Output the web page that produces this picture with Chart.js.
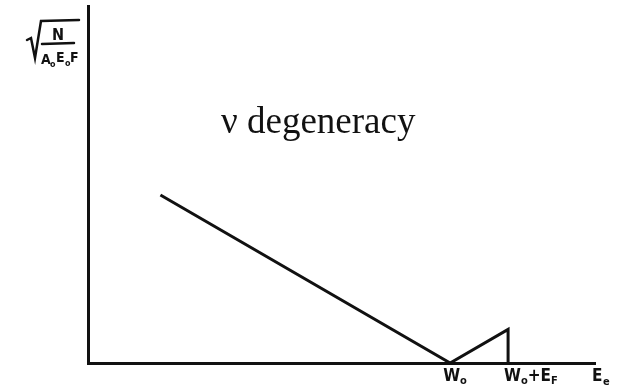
<!DOCTYPE html>
<html>
<head>
<meta charset="utf-8">
<script src="https://cdn.jsdelivr.net/npm/chart.js@4"></script>
<style>
  html, body { margin: 0; padding: 0; background: #fff; }
  #wrap { width: 628px; height: 386px; }
</style>
</head>
<body>
<div id="wrap"><canvas id="grafica" width="628" height="386"></canvas></div>
<script>
// electron energy (arbitrary units) and the Kurie-style ordinate
const energia = [2, 10, 11.6, 11.6]
const ordenada = [8, 0, 1.6, 0]
// marks under the energy axis: position, then text / subscript pairs
const marcasX = [10, 11.6]
const textosX = [["W", "o"], ["W", "o", "+E", "F"]]
const titulo = "\u03bd degeneracy"

const tinta = "#111"

// labels drawn by hand on top of the axes
const rotulos = {
  id: "rotulos",
  afterDraw(chart) {
    const ctx = chart.ctx
    const x = chart.scales.x
    const area = chart.chartArea
    ctx.save()
    ctx.fillStyle = tinta
    ctx.strokeStyle = tinta

    // title inside the plot
    ctx.font = "37px 'Liberation Serif'"
    ctx.textBaseline = "alphabetic"
    ctx.textAlign = "left"
    ctx.fillText(titulo, 221, 133)

    // text below the axis
    const big = "bold 17px 'DejaVu Sans Condensed', 'DejaVu Sans'"
    const small = "bold 11px 'DejaVu Sans Condensed', 'DejaVu Sans'"
    for (let i = 0; i < marcasX.length; i++) {
      let px = x.getPixelForValue(marcasX[i])
      let parts = textosX[i]
      let cx = i === 0 ? px - 7 : px - 4
      for (let j = 0; j < parts.length; j++) {
        let sub = j % 2 === 1
        ctx.font = sub ? small : big
        ctx.fillText(parts[j], cx, sub ? 384 : 381)
        cx += ctx.measureText(parts[j]).width
      }
    }
    // axis name at the end
    ctx.font = big
    ctx.fillText("E", area.right - 3, 381)
    ctx.font = small
    ctx.fillText("e", area.right + 8, 385)

    // y axis name: sqrt of N over A0 E0 F
    ctx.lineWidth = 2.5
    ctx.lineCap = "round"
    ctx.beginPath()
    ctx.moveTo(27, 40)
    ctx.lineTo(31, 38)
    ctx.lineTo(35, 58)
    ctx.lineTo(41, 21)
    ctx.lineTo(79, 20)
    ctx.stroke()
    ctx.beginPath()
    ctx.moveTo(42, 44)
    ctx.lineTo(74, 43)
    ctx.stroke()
    ctx.font = "bold 16px 'DejaVu Sans Condensed', 'DejaVu Sans'"
    ctx.fillText("N", 52, 40)
    ctx.font = "bold 14px 'DejaVu Sans Condensed', 'DejaVu Sans'"
    ctx.fillText("A", 41, 64)
    ctx.fillText("E", 56, 62)
    ctx.fillText("F", 70, 62)
    ctx.font = "bold 8px 'DejaVu Sans'"
    ctx.fillText("o", 50, 67)
    ctx.fillText("o", 65, 66)
    ctx.restore()
  }
}

new Chart(document.getElementById("grafica"), {
  type: "line",
  data: {
    datasets: [{
      data: energia.map((e, i) => ({ x: e, y: ordenada[i] })),
      borderColor: tinta,
      borderWidth: 3,
      pointRadius: 0,
      tension: 0,
      fill: false
    }]
  },
  options: {
    responsive: false,
    animation: false,
    layout: { padding: { left: 88, right: 33, top: 6, bottom: 23 } },
    plugins: { legend: { display: false }, tooltip: { enabled: false } },
    scales: {
      x: {
        type: "linear",
        min: 0,
        max: 14,
        ticks: { display: false },
        grid: { display: false, drawTicks: false },
        border: { display: true, color: tinta, width: 3 }
      },
      y: {
        min: 0,
        max: 17,
        ticks: { display: false },
        grid: { display: false, drawTicks: false },
        border: { display: true, color: tinta, width: 3 }
      }
    }
  },
  plugins: [rotulos]
})
</script>
</body>
</html>
